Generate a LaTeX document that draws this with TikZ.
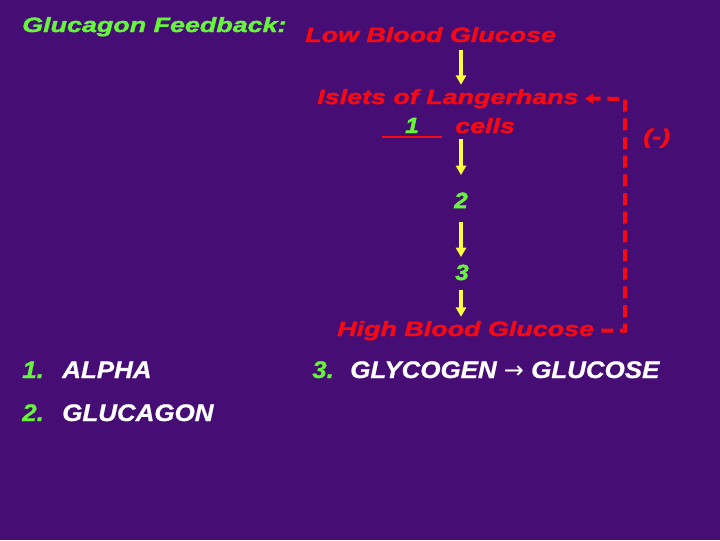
\documentclass[tikz,border=0pt]{standalone}
\usepackage{fontspec}
\setmainfont{Liberation Sans}
\newfontfamily\heavyfont[FakeStretch=1.3,FakeBold=1.8]{Liberation Sans}
\newfontfamily\digitfont[FakeStretch=1.1,FakeBold=2.2]{Liberation Sans}
\newfontfamily\listfont[FakeStretch=1.08,FakeBold=0.8]{Liberation Sans}
\newfontfamily\symbfont{DejaVu Sans}
\usetikzlibrary{arrows.meta}

\definecolor{slidebg}{RGB}{70,14,116}
\definecolor{labelgreen}{RGB}{102,245,60}
\definecolor{labelred}{RGB}{245,10,20}
\definecolor{arrowyellow}{RGB}{255,255,60}

\tikzset{
  redtext/.style={anchor=base west, inner sep=0pt, text=labelred, font=\heavyfont\bfseries\itshape\fontsize{15.5pt}{18pt}\selectfont},
  greentext/.style={anchor=base west, inner sep=0pt, text=labelgreen, font=\heavyfont\bfseries\itshape\fontsize{15.5pt}{18pt}\selectfont},
  numtext/.style={anchor=base, inner sep=0pt, text=labelgreen, font=\digitfont\bfseries\itshape\fontsize{16.5pt}{19pt}\selectfont},
  greenlist/.style={anchor=base west, inner sep=0pt, text=labelgreen, font=\listfont\bfseries\itshape\fontsize{18pt}{21pt}\selectfont},
  whitelist/.style={anchor=base west, inner sep=0pt, text=white, font=\listfont\bfseries\itshape\fontsize{18pt}{21pt}\selectfont},
  flow/.style={arrowyellow, line width=2.6pt, -{Triangle[width=7.5pt,length=7pt]}},
  feedback/.style={labelred, line width=3pt, dash pattern=on 9pt off 5pt, -{Triangle[width=7pt,length=6pt]}}
}

\begin{document}
\begin{tikzpicture}[x=0.75pt,y=0.75pt,yscale=-1,xscale=1]
    %set diagram left start at 0, and has height of 540
    \fill [slidebg] (0,0) rectangle (720,540);
    \useasboundingbox (0,0) rectangle (720,540);

    % Text Node
    \node [greentext] (title) at (22,32) {Glucagon Feedback:};
    % Text Node
    \node [redtext] (low) at (305,42) {Low Blood Glucose};
    % Text Node
    \node [redtext] (islets) at (317,104) {Islets of Langerhans};
    % Text Node
    \node [numtext, inner ysep=3pt, minimum width=45pt] (blank) at (412,133) {1};
    % Text Node
    \node [redtext] (cells) at (455,133) {cells};
    % Text Node
    \node [numtext] (two) at (461,208) {2};
    % Text Node
    \node [numtext] (three) at (462,280) {3};
    % Text Node
    \node [redtext] (high) at (337,336) {High Blood Glucose};
    % Text Node
    \node [redtext] (minus) at (643,143.5) {(-)};

    \coordinate (column) at (461,0);
    \coordinate (corner) at (625,98.8);

    %Straight Lines: blank under the 1
    \draw [labelred, line width=1.5pt] (blank.south west) -- (blank.south east);

    %Straight Lines: the chain
    \draw [flow, shorten <=6pt, shorten >=3pt] (low.south -| column) -- (islets.north -| column);
    \draw [flow, shorten <=4.5pt, shorten >=13pt] (cells.south -| column) -- (two.north -| column);
    \draw [flow, shorten <=10.5pt, shorten >=5.5pt] (two.south -| column) -- (three.north -| column);
    \draw [flow, shorten <=7.5pt, shorten >=3pt] (three.south -| column) -- (high.north -| column);

    %Straight Lines: negative feedback
    \draw [feedback] ([xshift=5.25pt]high.east) -| (corner) -- ([xshift=4.5pt]islets.east);

    % Text Node
    \node [greenlist] (num1) at (22,378) {1.};
    % Text Node
    \node [whitelist] (alpha) at (62,378) {ALPHA};
    % Text Node
    \node [greenlist] (num2) at (22,421) {2.};
    % Text Node
    \node [whitelist] (glucagon) at (62,421) {GLUCAGON};
    % Text Node
    \node [greenlist] (num3) at (312,378) {3.};
    % Text Node
    \node [whitelist] (glycogen) at (350,378) {GLYCOGEN {\symbfont\mdseries\upshape →} GLUCOSE};

\end{tikzpicture}
\end{document}
